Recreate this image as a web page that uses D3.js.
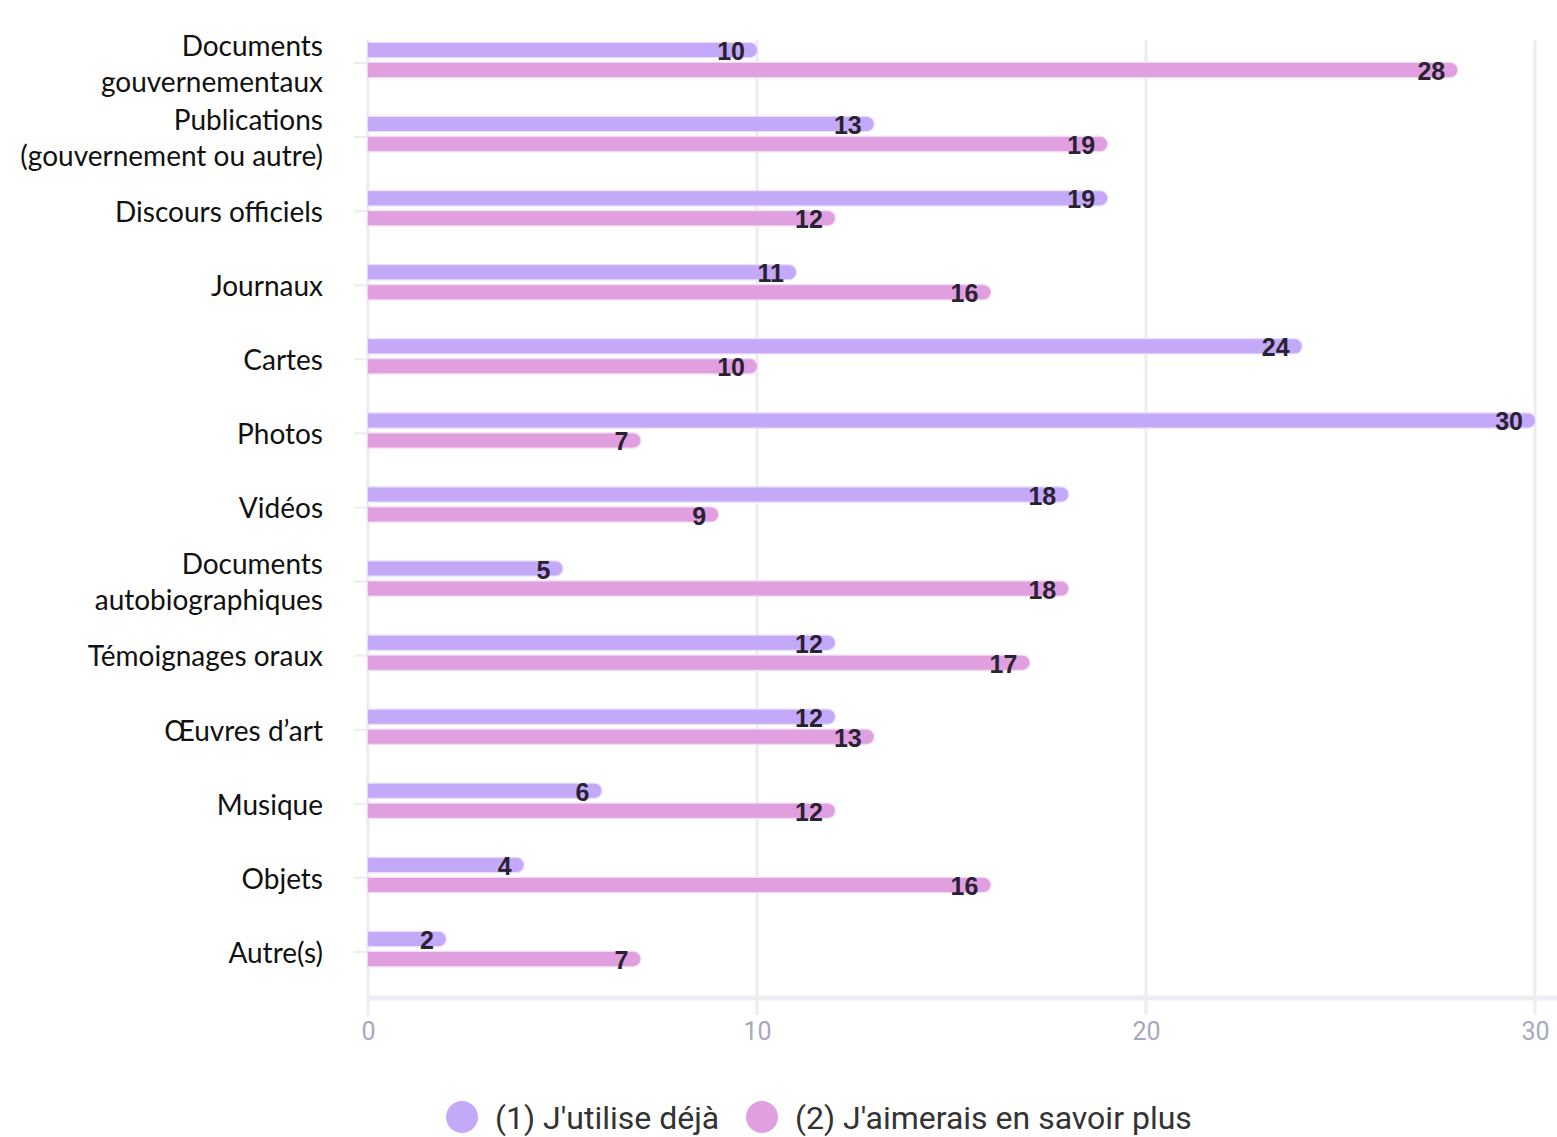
<!DOCTYPE html>
<html>
<head>
<meta charset="utf-8">
<script src="https://cdn.jsdelivr.net/npm/d3@7"></script>
<style>
  html, body { margin: 0; padding: 0; background: #fff; }
  svg { display: block; }
</style>
</head>
<body>
<svg id="chart" width="1557" height="1137"></svg>
<script>
const categories = [
  ["Documents", "gouvernementaux"],
  ["Publications", "(gouvernement ou autre)"],
  ["Discours officiels"],
  ["Journaux"],
  ["Cartes"],
  ["Photos"],
  ["Vidéos"],
  ["Documents", "autobiographiques"],
  ["Témoignages oraux"],
  ["Œuvres d’art"],
  ["Musique"],
  ["Objets"],
  ["Autre(s)"]
];
const seriesNames = ["(1) J'utilise déjà", "(2) J'aimerais en savoir plus"];
const usesAlready = [10, 13, 19, 11, 24, 30, 18, 5, 12, 12, 6, 4, 2];
const wantMore    = [28, 19, 12, 16, 10, 7, 9, 18, 17, 13, 12, 16, 7];
const tickValues = [0, 10, 20, 30];

const colors = ["#c4a9f8", "#e0a0e0"];
const halo = ["#e9dffc", "#f3dcf3"];

const svg = d3.select("#chart");
const x = d3.scaleLinear().domain([0, 30]).range([368, 1535]);
const y = d3.scaleBand().domain(d3.range(categories.length)).range([23, 986]);
const sub = d3.scaleBand().domain([0, 1]).range([-20, 20]);
const barH = 14;

// gridlines
svg.append("g").selectAll("line").data(tickValues).join("line")
  .attr("x1", d => x(d)).attr("x2", d => x(d))
  .attr("y1", 40).attr("y2", 1015)
  .attr("stroke", "#ececf3").attr("stroke-width", 3);

// bottom axis line
svg.append("line")
  .attr("x1", x(0)).attr("x2", 1557)
  .attr("y1", 998).attr("y2", 998)
  .attr("stroke", "#ededf3").attr("stroke-width", 5);

// x axis tick labels
const xAxis = d3.axisBottom(x).tickValues(tickValues).tickSize(0).tickPadding(0);
const gx = svg.append("g").attr("transform", "translate(0,1022)").call(xAxis);
gx.select(".domain").remove();
gx.selectAll("text")
  .attr("font-family", "Roboto, 'Liberation Sans', sans-serif")
  .attr("font-size", 25)
  .attr("fill", "#a8a8ba")
  .attr("dy", "0.71em");

// small tick stubs at left axis
svg.append("g").selectAll("line").data(d3.range(categories.length)).join("line")
  .attr("x1", 354).attr("x2", 368)
  .attr("y1", i => y(i) + y.bandwidth() / 2 + 3)
  .attr("y2", i => y(i) + y.bandwidth() / 2 + 3)
  .attr("stroke", "#ececf3").attr("stroke-width", 2);

// bars
function barPath(x0, x1, yc, h) {
  const r = h / 2;
  const w = Math.max(x1 - x0, r);
  return `M${x0},${yc - r}H${x0 + w - r}A${r},${r} 0 0 1 ${x0 + w - r},${yc + r}H${x0}Z`;
}
const series = [usesAlready, wantMore];
series.forEach((vals, s) => {
  const g = svg.append("g");
  const yc = i => y(i) + y.bandwidth() / 2 + sub(s) + sub.bandwidth() / 2;
  g.selectAll("path").data(vals).join("path")
    .attr("d", (v, i) => barPath(x(0), x(v), yc(i), barH))
    .attr("fill", colors[s])
    .attr("stroke", halo[s]).attr("stroke-width", 2.5)
    .attr("paint-order", "stroke");
  g.selectAll("text").data(vals).join("text")
    .attr("x", v => x(v) - 12)
    .attr("y", (v, i) => yc(i) + 1)
    .attr("dy", "0.36em")
    .attr("text-anchor", "end")
    .attr("font-family", "'Liberation Sans', Arial, sans-serif")
    .attr("font-weight", "bold")
    .attr("font-size", 25)
    .attr("fill", "#2a2233")
    .text(v => v);
});

// category labels
const lineH = 36;
const lab = svg.append("g")
  .attr("font-family", "Lato, 'Noto Sans', sans-serif")
  .attr("font-size", 28)
  .attr("fill", "#111")
  .attr("text-anchor", "end");
categories.forEach((lines, i) => {
  const c = y(i) + y.bandwidth() / 2 + 4;
  const t = lab.append("text").attr("x", 323);
  lines.forEach((ln, k) => {
    t.append("tspan")
      .attr("x", 323)
      .attr("y", c + (k - (lines.length - 1) / 2) * lineH)
      .attr("dy", "0.35em")
      .text(ln);
  });
});

// legend
const legendX = [462, 762];
const leg = svg.append("g");
seriesNames.forEach((name, s) => {
  leg.append("circle")
    .attr("cx", legendX[s]).attr("cy", 1117).attr("r", 16)
    .attr("fill", colors[s]);
  leg.append("text")
    .attr("x", legendX[s] + 33).attr("y", 1117)
    .attr("dy", "0.36em")
    .attr("font-family", "Roboto, 'Liberation Sans', sans-serif")
    .attr("font-size", 32)
    .attr("fill", "#333")
    .text(name);
});
</script>
</body>
</html>
